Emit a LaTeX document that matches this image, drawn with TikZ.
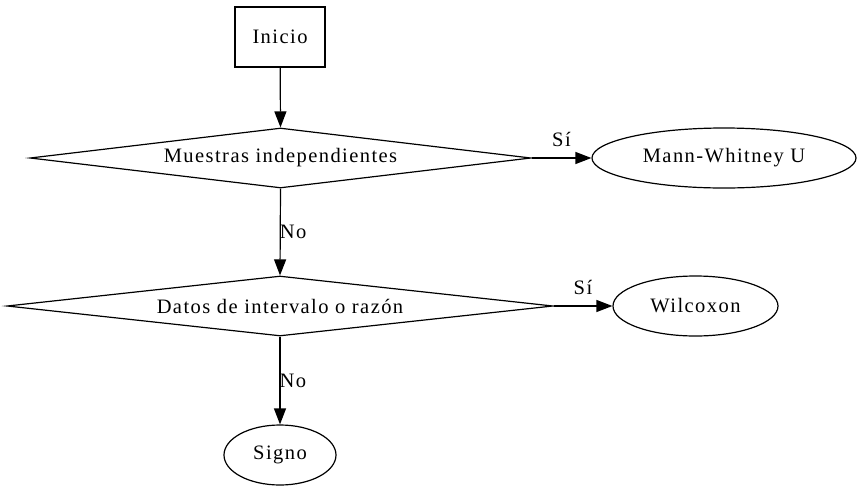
\documentclass[tikz,border=0pt]{standalone}
\usepackage{fontspec}
\setmainfont{Liberation Serif}[LetterSpace=7]
\usetikzlibrary{shapes.geometric,arrows.meta}
\begin{document}
\begin{tikzpicture}[x=1pt,y=-1pt,
  every node/.style={font=\fontsize{20.5}{24}\selectfont, inner sep=0pt, line width=1.2pt},
  box/.style={draw, rectangle, minimum width=90pt, minimum height=60pt},
  dec/.style={draw, diamond, aspect=8.3, minimum height=60pt},
  oval/.style={draw, ellipse, minimum height=60pt},
  conn/.style={line width=1.2pt, -{Triangle[length=16pt,width=12pt]}},
  lab/.style={font=\fontsize{20.5}{24}\selectfont}]
\useasboundingbox (0,0) rectangle (863,491);
\node[box] (ini) at (280,37) {Inicio};
\node[dec, minimum width=501pt] (d1) at (280.5,158) {Muestras independientes};
\node[oval, minimum width=264pt] (mw) at (724,158) {Mann-Whitney U};
\node[dec, minimum width=546pt] (d2) at (280,306) {Datos de intervalo o razón};
\node[oval, minimum width=165pt] (wil) at (695.5,306) {Wilcoxon};
\node[oval, minimum width=112pt] (sig) at (280,455) {Signo};
\draw[conn] (ini) -- (d1.north);
\draw[conn] (d1.east) -- node[lab, above, yshift=11pt] {Sí} (mw);
\draw[conn] (d1.south) -- node[lab, right, xshift=-1pt] {No} (d2.north);
\draw[conn] (d2.east) -- node[lab, above, yshift=11pt] {Sí} (wil);
\draw[conn] (d2.south) -- node[lab, right, xshift=-1pt] {No} (sig);
\end{tikzpicture}
\end{document}
